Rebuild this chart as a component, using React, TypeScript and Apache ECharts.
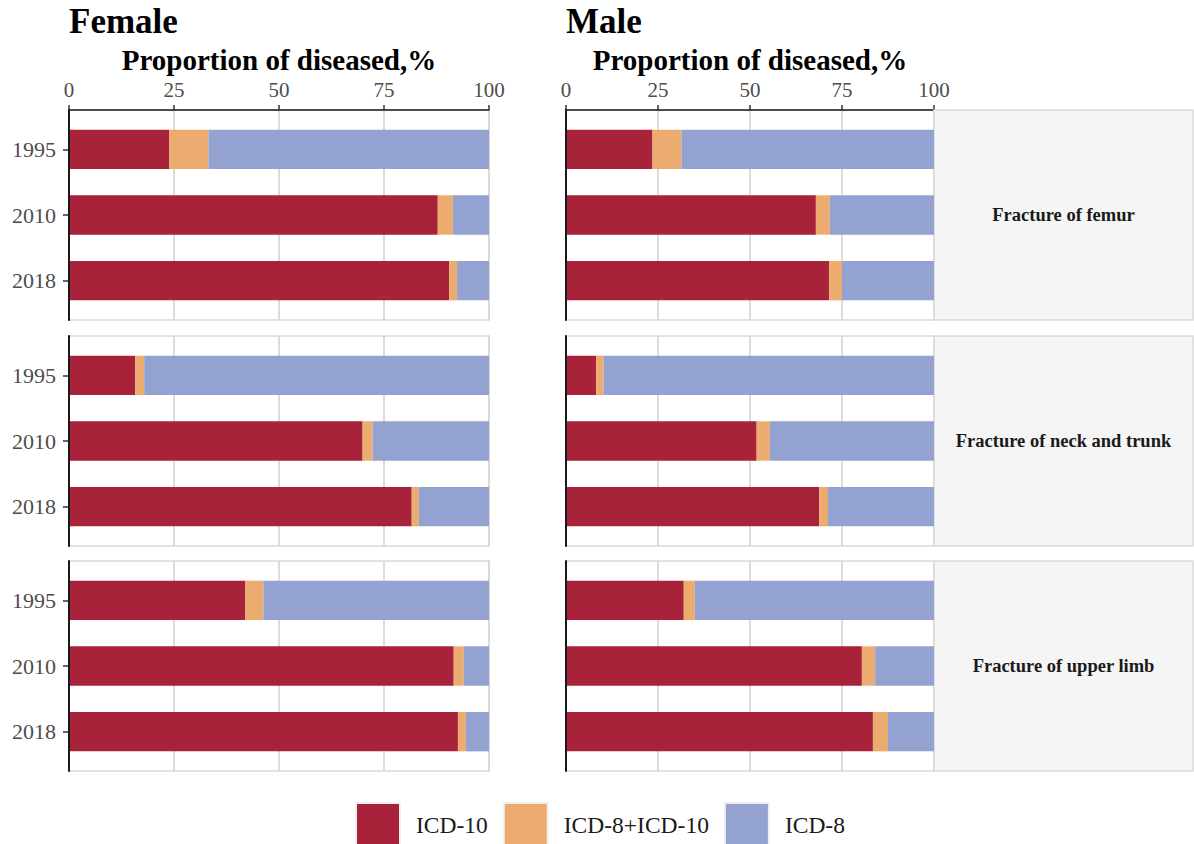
import React, { useEffect, useRef } from "react";
import * as echarts from "echarts";

// ---------- data ----------
const years = ["1995", "2010", "2018"];
const sexes = ["Female", "Male"];
const fractures = ["Fracture of femur", "Fracture of neck and trunk", "Fracture of upper limb"];
const seriesNames = ["ICD-10", "ICD-8+ICD-10", "ICD-8"];
const xTicks = [0, 25, 50, 75, 100];

// Female
const femaleFemurIcd10 = [23.9, 87.8, 90.5];
const femaleFemurIcd8Icd10 = [9.3, 3.6, 1.9];
const femaleFemurIcd8 = [66.8, 8.6, 7.6];

const femaleNeckIcd10 = [15.8, 69.9, 81.6];
const femaleNeckIcd8Icd10 = [2.1, 2.4, 1.7];
const femaleNeckIcd8 = [82.1, 27.7, 16.7];

const femaleUpperIcd10 = [42.0, 91.6, 92.6];
const femaleUpperIcd8Icd10 = [4.3, 2.4, 1.9];
const femaleUpperIcd8 = [53.7, 6.0, 5.5];

// Male
const maleFemurIcd10 = [23.5, 67.9, 71.5];
const maleFemurIcd8Icd10 = [7.9, 3.8, 3.5];
const maleFemurIcd8 = [68.6, 28.3, 25.0];

const maleNeckIcd10 = [8.2, 51.8, 68.8];
const maleNeckIcd8Icd10 = [2.0, 3.6, 2.4];
const maleNeckIcd8 = [89.8, 44.6, 28.8];

const maleUpperIcd10 = [32.0, 80.4, 83.4];
const maleUpperIcd8Icd10 = [3.0, 3.6, 4.1];
const maleUpperIcd8 = [65.0, 16.0, 12.5];

// ---------- styling ----------
const colors = ["#A8223A", "#EDAC6F", "#93A2D0"];
const FONT = "'Liberation Serif', 'DejaVu Serif', serif";
const colLeft = [69, 566];
const colWidth = [420, 368];
const rowTop = [110, 336, 561];
const panelH = 210;
const inset = 6.5;
const stripLeft = 934;
const stripWidth = 259;

const panels = [
  { col: 0, row: 0, values: [femaleFemurIcd10, femaleFemurIcd8Icd10, femaleFemurIcd8] },
  { col: 0, row: 1, values: [femaleNeckIcd10, femaleNeckIcd8Icd10, femaleNeckIcd8] },
  { col: 0, row: 2, values: [femaleUpperIcd10, femaleUpperIcd8Icd10, femaleUpperIcd8] },
  { col: 1, row: 0, values: [maleFemurIcd10, maleFemurIcd8Icd10, maleFemurIcd8] },
  { col: 1, row: 1, values: [maleNeckIcd10, maleNeckIcd8Icd10, maleNeckIcd8] },
  { col: 1, row: 2, values: [maleUpperIcd10, maleUpperIcd8Icd10, maleUpperIcd8] },
];

function buildOption() {
  const grids: any[] = [];
  const xAxes: any[] = [];
  const yAxes: any[] = [];
  const series: any[] = [];
  const n = panels.length;

  // background grids (gridlines, borders, axis lines)
  panels.forEach((p, i) => {
    grids.push({
      left: colLeft[p.col],
      top: rowTop[p.row],
      width: colWidth[p.col],
      height: panelH,
      show: true,
      borderColor: "#d9d9d9",
      borderWidth: 1.5,
      backgroundColor: "transparent",
    });
    const top = p.row === 0;
    xAxes.push({
      type: "value",
      gridIndex: i,
      min: 0,
      max: 100,
      interval: 25,
      position: "top",
      name: top ? "Proportion of diseased,%" : "",
      nameLocation: "middle",
      nameGap: 36,
      nameTextStyle: { fontFamily: FONT, fontWeight: "bold", fontSize: 29, color: "#000" },
      axisLine: { show: top, onZero: false, lineStyle: { color: "#1a1a1a", width: 1.5 } },
      axisTick: { show: top, length: 5, lineStyle: { color: "#333", width: 1.5 } },
      axisLabel: { show: top, fontFamily: FONT, fontSize: 21, color: "#4d4d4d", margin: 10 },
      splitLine: { show: true, lineStyle: { color: "#d9d9d9", width: 1.8 } },
      z: 0,
    });
    yAxes.push({
      type: "value",
      gridIndex: i,
      min: 0,
      max: 1,
      axisLine: { show: true, onZero: false, lineStyle: { color: "#1a1a1a", width: 2 } },
      axisTick: { show: false },
      axisLabel: { show: false },
      splitLine: { show: false },
      z: 5,
    });
  });

  // foreground grids (bars)
  panels.forEach((p, i) => {
    const gi = n + i;
    grids.push({
      left: colLeft[p.col],
      top: rowTop[p.row] + inset,
      width: colWidth[p.col],
      height: panelH - 2 * inset,
    });
    xAxes.push({ type: "value", gridIndex: gi, min: 0, max: 100, interval: 25, show: false });
    const left = p.col === 0;
    yAxes.push({
      type: "category",
      gridIndex: gi,
      data: years,
      inverse: true,
      axisLine: { show: false },
      axisTick: { show: left, alignWithLabel: true, length: 6, lineStyle: { color: "#333", width: 1.5 } },
      axisLabel: { show: left, fontFamily: FONT, fontSize: 22, color: "#4d4d4d", margin: 13 },
      splitLine: { show: false },
    });
    seriesNames.forEach((name, k) => {
      series.push({
        type: "bar",
        name,
        xAxisIndex: gi,
        yAxisIndex: gi,
        stack: "panel" + i,
        barWidth: "60%",
        data: p.values[k],
        itemStyle: { color: colors[k] },
      });
    });
  });

  const graphics: any[] = [];
  fractures.forEach((f, r) => {
    graphics.push({
      type: "rect",
      shape: { x: stripLeft, y: rowTop[r], width: stripWidth, height: panelH },
      style: { fill: "#f5f5f5", stroke: "#d9d9d9", lineWidth: 1.5 },
      z: 1,
    });
    graphics.push({
      type: "text",
      x: stripLeft + stripWidth / 2,
      y: rowTop[r] + panelH / 2,
      style: {
        text: f,
        fontFamily: FONT,
        fontWeight: "bold",
        fontSize: 18.5,
        fill: "#1a1a1a",
        align: "center",
        verticalAlign: "middle",
      },
      z: 2,
    });
  });

  return {
    animation: false,
    backgroundColor: "#ffffff",
    title: sexes.map((s, c) => ({
      text: s,
      left: colLeft[c],
      top: 4,
      padding: 0,
      textStyle: { fontFamily: FONT, fontWeight: "bold", fontSize: 35, color: "#000" },
    })),
    legend: {
      data: seriesNames,
      left: 355,
      top: 802,
      padding: 0,
      icon: "rect",
      itemWidth: 44,
      itemHeight: 44,
      itemGap: 15,
      itemStyle: { borderColor: "#f0f0f0", borderWidth: 2 },
      textStyle: { fontFamily: FONT, fontSize: 23.5, color: "#1a1a1a", padding: [0, 0, 0, 11] },
      selectedMode: false,
    },
    grid: grids,
    xAxis: xAxes,
    yAxis: yAxes,
    series,
    graphic: graphics,
  };
}

export default function App() {
  const ref = useRef<HTMLDivElement>(null);
  useEffect(() => {
    if (!ref.current) return;
    const chart = echarts.init(ref.current, undefined, { renderer: "svg" });
    chart.setOption(buildOption() as any);
    return () => chart.dispose();
  }, []);
  return (
    <div
      ref={ref}
      style={{ position: "fixed", left: 0, top: 0, width: 1194, height: 844, background: "#fff" }}
    />
  );
}
